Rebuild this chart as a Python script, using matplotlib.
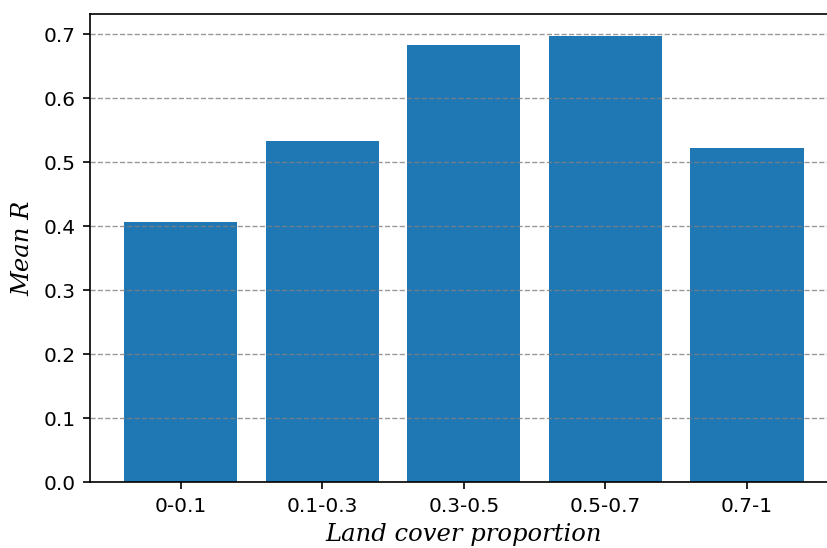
import matplotlib
matplotlib.use("Agg")
import matplotlib.pyplot as plt

categories = ["0-0.1", "0.1-0.3", "0.3-0.5", "0.5-0.7", "0.7-1"]
mean_r = [0.406, 0.534, 0.684, 0.697, 0.523]

fig = plt.figure(figsize=(8.27, 5.48), dpi=100)
ax = fig.add_axes([0.1088, 0.1204, 0.904, 0.8541])

ax.bar(categories, mean_r, color="#1f77b4", width=0.8)
ax.grid(axis="y", linestyle="--", color="gray", alpha=0.8, linewidth=1.0)

for side in ax.spines.values():
    side.set_linewidth(1.2)
ax.tick_params(axis="both", labelsize=14.5, width=1.2, length=5)
ax.tick_params(axis="x", pad=6)
ax.tick_params(axis="y", pad=5)
ax.set_xlabel("Land cover proportion", fontsize=17.5, fontstyle="italic",
              family="DejaVu Serif", labelpad=5)
ax.set_ylabel("Mean R", fontsize=17.5, fontstyle="italic",
              family="DejaVu Serif", labelpad=7)

fig.savefig("out.png", dpi=100)
